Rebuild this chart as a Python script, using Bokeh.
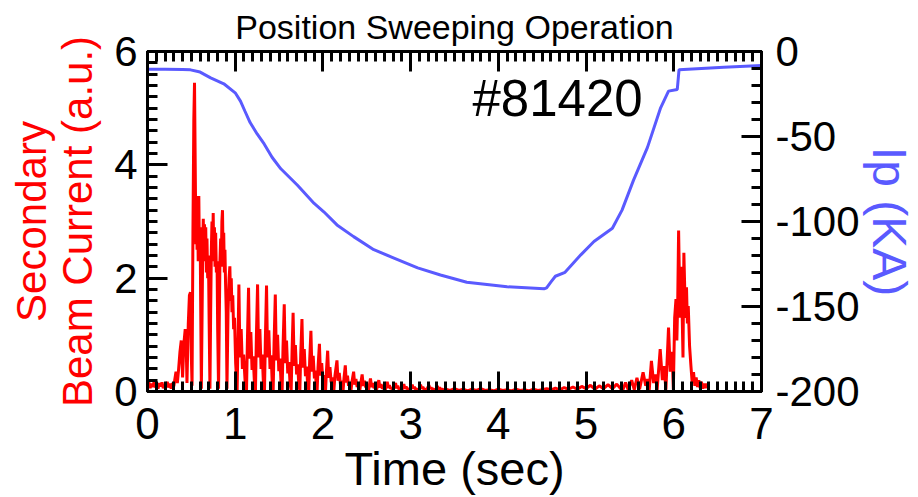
from bokeh.plotting import figure
from bokeh.models import (Range1d, LinearAxis, SingleIntervalTicker, Label,
                          NumeralTickFormatter, CustomJSTickFormatter)
from bokeh.embed import file_html
from bokeh.resources import INLINE

FONT = "Liberation Sans"

# Secondary beam current (a.u.), as (time [s], value) samples, segment by segment
beam_baseline = [
    (0.00, 0.10), (0.015, 0.16), (0.03, 0.06), (0.045, 0.14), (0.06, 0.08), (0.075, 0.17),
    (0.09, 0.07), (0.105, 0.13), (0.12, 0.05), (0.135, 0.15), (0.15, 0.09), (0.165, 0.16),
    (0.18, 0.06), (0.195, 0.12), (0.21, 0.08), (0.225, 0.17), (0.24, 0.07), (0.255, 0.14),
    (0.27, 0.05), (0.285, 0.15), (0.30, 0.09),
]

beam_rise = [
    (0.31, 0.20), (0.325, 0.35), (0.34, 0.15), (0.355, 0.40), (0.37, 0.70), (0.385, 0.90),
    (0.40, 0.25), (0.415, 0.85), (0.43, 1.10), (0.44, 0.90), (0.45, 0.15), (0.465, 1.20),
    (0.478, 1.70), (0.49, 1.75), (0.50, 0.60), (0.508, 0.10), (0.518, 2.80), (0.528, 4.80),
    (0.536, 5.45), (0.544, 4.00), (0.552, 2.60),
]

beam_dense = [
    (0.558, 3.45), (0.565, 2.50), (0.572, 3.30), (0.578, 2.30), (0.585, 3.45), (0.592, 2.40),
    (0.600, 2.90), (0.606, 1.60), (0.614, 0.05), (0.622, 1.30), (0.630, 2.60), (0.636, 3.05),
    (0.643, 2.30), (0.650, 2.95), (0.657, 2.40), (0.664, 2.90), (0.671, 2.10), (0.678, 2.70),
    (0.686, 2.00), (0.695, 2.40), (0.703, 1.20), (0.712, 0.05), (0.720, 1.40), (0.728, 2.50),
    (0.735, 3.00), (0.742, 2.40), (0.749, 3.15), (0.756, 2.30), (0.763, 2.90), (0.770, 2.20),
    (0.777, 2.80), (0.785, 2.10), (0.793, 2.30), (0.800, 1.10), (0.810, 0.05), (0.818, 1.20),
    (0.826, 2.30), (0.834, 2.70), (0.841, 2.20), (0.848, 3.00), (0.855, 3.20), (0.862, 2.40),
    (0.869, 2.80), (0.876, 2.10), (0.883, 2.50), (0.890, 1.90), (0.898, 1.40), (0.906, 0.05),
    (0.918, 1.40), (0.930, 2.00), (0.939, 2.21), (0.947, 1.60), (0.955, 2.00), (0.963, 1.40),
    (0.972, 1.70), (0.982, 1.10), (0.992, 1.30), (1.005, 0.50),
]

# comb of spikes: valley, main spike, dip, secondary hump, dip, small hump
beam_decay = [
    (1.022, 0.02), (1.032, 0.90), (1.042, 1.89), (1.054, 0.60), (1.068, 1.10), (1.082, 0.40), (1.096, 0.65), (1.112, 0.20),
    (1.129, 0.02), (1.139, 0.90), (1.152, 1.83), (1.164, 0.58), (1.178, 1.05), (1.192, 0.38), (1.205, 0.62), (1.218, 0.18),
    (1.231, 0.02), (1.241, 0.95), (1.255, 1.89), (1.267, 0.60), (1.281, 1.10), (1.295, 0.40), (1.308, 0.65), (1.320, 0.20),
    (1.334, 0.02), (1.344, 0.95), (1.357, 1.87), (1.369, 0.60), (1.383, 1.08), (1.397, 0.40), (1.410, 0.64), (1.421, 0.18),
    (1.433, 0.02), (1.443, 0.85), (1.457, 1.71), (1.469, 0.55), (1.483, 1.00), (1.497, 0.36), (1.510, 0.58), (1.522, 0.16),
    (1.535, 0.02), (1.545, 0.78), (1.559, 1.54), (1.571, 0.50), (1.585, 0.90), (1.599, 0.32), (1.612, 0.52), (1.625, 0.14),
    (1.638, 0.02), (1.648, 0.70), (1.660, 1.39), (1.672, 0.45), (1.686, 0.82), (1.700, 0.30), (1.712, 0.48), (1.725, 0.12),
    (1.737, 0.02), (1.747, 0.65), (1.761, 1.28), (1.773, 0.42), (1.787, 0.75), (1.801, 0.27), (1.814, 0.44), (1.826, 0.11),
    (1.839, 0.02), (1.849, 0.55), (1.863, 1.07), (1.875, 0.35), (1.889, 0.63), (1.903, 0.23), (1.914, 0.37), (1.924, 0.09),
    (1.934, 0.02), (1.944, 0.42), (1.960, 0.84), (1.972, 0.28), (1.986, 0.50), (2.000, 0.18), (2.010, 0.29), (2.020, 0.07),
    (2.030, 0.02), (2.040, 0.36), (2.054, 0.72), (2.066, 0.24), (2.080, 0.43), (2.094, 0.16), (2.104, 0.25), (2.115, 0.06),
    (2.125, 0.02), (2.137, 0.28), (2.160, 0.55), (2.172, 0.19), (2.186, 0.33), (2.200, 0.12), (2.210, 0.19), (2.220, 0.05),
    (2.230, 0.02), (2.240, 0.23), (2.255, 0.46), (2.266, 0.16), (2.280, 0.28), (2.292, 0.10), (2.302, 0.16), (2.312, 0.04),
    (2.320, 0.02), (2.332, 0.18), (2.350, 0.35), (2.362, 0.12), (2.376, 0.22), (2.390, 0.08), (2.400, 0.13), (2.410, 0.03),
    (2.420, 0.02), (2.432, 0.15), (2.447, 0.30), (2.460, 0.10), (2.474, 0.19), (2.488, 0.07), (2.498, 0.11), (2.508, 0.03),
    (2.520, 0.02), (2.530, 0.12), (2.542, 0.23), (2.555, 0.08), (2.568, 0.15), (2.582, 0.06), (2.592, 0.09), (2.600, 0.03),
    (2.610, 0.02), (2.622, 0.10), (2.637, 0.20), (2.650, 0.07), (2.663, 0.13), (2.677, 0.05), (2.688, 0.08), (2.698, 0.03),
    (2.710, 0.02), (2.720, 0.09), (2.733, 0.17), (2.746, 0.06), (2.758, 0.11), (2.772, 0.05), (2.782, 0.07), (2.792, 0.02),
    (2.800, 0.02), (2.812, 0.08), (2.828, 0.15), (2.840, 0.06), (2.853, 0.10), (2.866, 0.04), (2.878, 0.06), (2.890, 0.02),
    (2.900, 0.02), (2.910, 0.07), (2.922, 0.13), (2.935, 0.05), (2.948, 0.09), (2.960, 0.04), (2.970, 0.06), (2.980, 0.02),
    (2.990, 0.02), (3.002, 0.06), (3.018, 0.12), (3.030, 0.05), (3.043, 0.08), (3.056, 0.04), (3.068, 0.05), (3.080, 0.02),
    (3.090, 0.02), (3.100, 0.06), (3.113, 0.12), (3.126, 0.05), (3.139, 0.08), (3.152, 0.04), (3.162, 0.05), (3.172, 0.02),
    (3.180, 0.02), (3.192, 0.06), (3.208, 0.11), (3.220, 0.05), (3.233, 0.07), (3.246, 0.04), (3.258, 0.05), (3.270, 0.02),
    (3.280, 0.02), (3.292, 0.05), (3.304, 0.10), (3.316, 0.04), (3.330, 0.07), (3.345, 0.03), (3.360, 0.05), (3.372, 0.02),
]

beam_quiet = [
    (3.40, 0.04), (3.45, 0.02), (3.50, 0.05), (3.55, 0.02), (3.60, 0.04), (3.65, 0.01), (3.70, 0.04),
    (3.75, 0.02), (3.80, 0.05), (3.85, 0.02), (3.90, 0.03), (3.95, 0.01), (4.00, 0.04), (4.05, 0.02),
    (4.10, 0.03), (4.15, 0.01), (4.20, 0.04), (4.25, 0.02), (4.30, 0.03), (4.35, 0.01), (4.40, 0.04),
    (4.45, 0.02), (4.50, 0.03), (4.55, 0.05), (4.60, 0.03), (4.65, 0.06), (4.70, 0.03), (4.75, 0.07),
    (4.80, 0.04), (4.85, 0.08), (4.90, 0.04), (4.95, 0.09), (5.00, 0.05), (5.05, 0.11), (5.10, 0.04),
    (5.15, 0.10), (5.20, 0.05), (5.25, 0.12), (5.30, 0.05), (5.35, 0.13), (5.40, 0.04),
]

beam_second_burst = [
    (5.42, 0.03), (5.45, 0.16), (5.48, 0.03), (5.52, 0.20), (5.55, 0.03), (5.58, 0.24), (5.61, 0.04),
    (5.65, 0.34), (5.68, 0.10), (5.70, 0.22), (5.72, 0.03), (5.745, 0.54), (5.77, 0.15), (5.79, 0.30),
    (5.81, 0.03), (5.845, 0.75), (5.87, 0.20), (5.89, 0.45), (5.91, 0.03), (5.94, 1.13), (5.96, 0.35),
    (5.98, 0.70), (5.995, 0.03), (6.01, 1.30), (6.025, 1.63), (6.035, 0.90), (6.045, 1.60), (6.055, 2.84),
    (6.065, 1.90), (6.075, 1.30), (6.085, 2.20), (6.095, 1.40), (6.105, 0.60), (6.115, 2.45), (6.125, 1.80),
    (6.135, 1.30), (6.145, 1.84), (6.155, 1.20), (6.165, 1.51), (6.18, 0.80), (6.195, 0.46), (6.21, 0.15),
    (6.225, 0.34), (6.24, 0.10), (6.255, 0.25), (6.27, 0.08), (6.285, 0.20), (6.30, 0.06), (6.315, 0.17),
    (6.33, 0.05), (6.345, 0.14), (6.36, 0.06), (6.375, 0.14), (6.385, 0.08),
]

# Plasma current Ip (kA)
ip_time = [0.00, 0.20, 0.40, 0.49, 0.60, 0.72, 0.87, 1.00, 1.06, 1.11, 1.17, 1.25, 1.33, 1.42,
           1.52, 1.71, 1.90, 2.01, 2.16, 2.35, 2.58, 2.81, 3.08, 3.34, 3.64, 4.10, 4.52, 4.55,
           4.60, 4.65, 4.76, 4.94, 5.09, 5.30, 5.41, 5.54, 5.70, 5.85, 5.94, 6.04, 6.06, 6.57,
           7.00]
ip_ka = [-10.5, -10.5, -10.6, -10.8, -12.1, -15.5, -19.0, -24.3, -29.2, -35.0, -41.8, -48.5,
         -54.4, -62.2, -69.0, -78.7, -89.4, -94.3, -102.0, -108.9, -116.6, -121.5, -127.3,
         -131.5, -135.7, -138.4, -139.6, -139.0, -135.5, -132.2, -129.9, -119.6, -111.8,
         -104.0, -93.3, -75.8, -56.4, -33.1, -23.3, -22.3, -10.7, -9.3, -8.2]

title_text = "Position Sweeping Operation"
shot_label = "#81420"

beam = beam_baseline + beam_rise + beam_dense + beam_decay + beam_quiet + beam_second_burst
beam_time = [s[0] for s in beam]
beam_current = [s[1] for s in beam]

p = figure(width=918, height=497, output_backend="svg", toolbar_location=None,
           x_range=Range1d(0, 7), y_range=Range1d(0, 6),
           min_border_left=147, min_border_right=157, min_border_top=50, min_border_bottom=104)
p.extra_y_ranges = {"ip": Range1d(-200, 0)}

p.background_fill_color = "white"
p.border_fill_color = "white"
p.outline_line_color = "black"
p.outline_line_width = 3
p.xgrid.grid_line_color = None
p.ygrid.grid_line_color = None

p.title.text = title_text
p.title.align = "center"
p.title.text_font = FONT
p.title.text_font_size = "34px"
p.title.text_font_style = "normal"
p.title.text_color = "black"
p.title.standoff = 11


def style_axis(ax):
    ax.axis_line_width = 3
    ax.axis_line_color = "black"
    ax.major_tick_line_width = 3
    ax.minor_tick_line_width = 3
    ax.major_tick_in = 20
    ax.major_tick_out = 0
    ax.minor_tick_in = 10
    ax.minor_tick_out = 0
    ax.major_label_text_font = FONT
    ax.major_label_text_font_size = "42px"
    ax.major_label_text_color = "black"
    ax.major_label_standoff = 10
    ax.axis_label_text_font = FONT
    ax.axis_label_text_font_style = "normal"


xax = p.xaxis[0]
xax.ticker = SingleIntervalTicker(interval=1, num_minor_ticks=10)
style_axis(xax)
xax.major_label_text_font_size = "44px"
xax.major_label_standoff = 16
xax.axis_label = "Time (sec)"
xax.axis_label_text_font_size = "47px"
xax.axis_label_text_color = "black"
xax.axis_label_standoff = 0

yax = p.yaxis[0]
yax.ticker = SingleIntervalTicker(interval=2, num_minor_ticks=10)
style_axis(yax)
yax.axis_label = "Secondary\nBeam Current (a.u.)"
yax.axis_label_text_font_size = "42px"
yax.axis_label_text_line_height = 0.98
yax.axis_label_text_color = "#ff0000"
yax.axis_label_standoff = 10

# tick marks along the top edge, no labels
top = LinearAxis(ticker=SingleIntervalTicker(interval=1, num_minor_ticks=10),
                 formatter=CustomJSTickFormatter(code="return ''"))
style_axis(top)
top.major_label_text_font_size = "1px"
top.major_label_standoff = 0
p.add_layout(top, "above")

rax = LinearAxis(y_range_name="ip", ticker=SingleIntervalTicker(interval=50, num_minor_ticks=5),
                 formatter=NumeralTickFormatter(format="0"))
style_axis(rax)
rax.major_label_standoff = 14
rax.axis_label = "Ip (KA)"
rax.axis_label_text_font_size = "48px"
rax.axis_label_text_line_height = 1.0
rax.axis_label_text_color = "#5a5aff"
rax.axis_label_standoff = 0
p.add_layout(rax, "right")

p.line(beam_time, beam_current, line_color="#ff0000", line_width=3)
p.line(ip_time, ip_ka, line_color="#5a5aff", line_width=3, y_range_name="ip")

p.add_layout(Label(x=4.675, y=5.17, text=shot_label, text_align="center",
                   text_baseline="middle", text_font=FONT, text_font_size="51px",
                   text_color="black"))

open("out.html", "w").write(file_html(p, INLINE))
